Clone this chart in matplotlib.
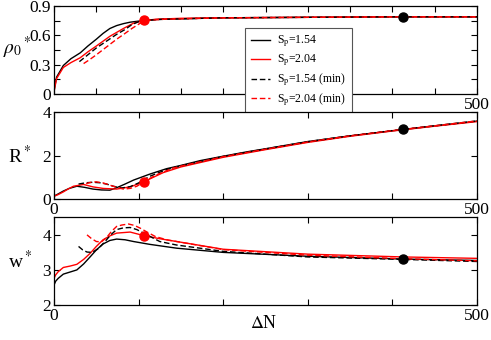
import matplotlib

matplotlib.use("Agg")
import matplotlib.pyplot as plt

# ---- data ----
# panel 1: rho_0*
n_rho_a = [0, 3, 11, 20, 31, 40, 50, 58, 66, 74, 82, 90, 99, 110, 125, 150, 200, 300, 400, 500]
rho_a = [0.03, 0.17, 0.29, 0.36, 0.42, 0.49, 0.56, 0.62, 0.67, 0.70, 0.72, 0.735, 0.745,
         0.755, 0.765, 0.77, 0.78, 0.785, 0.79, 0.79]
n_rho_b = [0, 3, 11, 20, 31, 40, 50, 58, 66, 74, 82, 94, 105, 120, 150, 200, 300, 400, 500]
rho_b = [0.02, 0.155, 0.27, 0.32, 0.37, 0.43, 0.49, 0.54, 0.59, 0.63, 0.67, 0.725, 0.75,
         0.765, 0.775, 0.78, 0.785, 0.79, 0.79]
n_rho_a_min = [30, 40, 50, 62, 74, 84, 92, 100, 110, 130, 200, 300, 400, 500]
rho_a_min = [0.33, 0.40, 0.47, 0.54, 0.61, 0.66, 0.71, 0.74, 0.755, 0.765, 0.78, 0.785, 0.79, 0.79]
n_rho_b_min = [35, 42, 50, 62, 74, 84, 92, 102, 112, 130, 200, 300, 400, 500]
rho_b_min = [0.31, 0.35, 0.40, 0.48, 0.56, 0.62, 0.67, 0.725, 0.755, 0.765, 0.78, 0.785, 0.79, 0.79]

# panel 2: R*
n_r_a = [0, 5, 11, 18, 27, 36, 46, 56, 66, 74, 84, 94, 113, 133, 150, 173, 200, 228, 250,
         300, 350, 400, 450, 500]
r_a = [0.15, 0.25, 0.38, 0.5, 0.6, 0.55, 0.47, 0.43, 0.42, 0.53, 0.7, 0.88, 1.15, 1.40,
       1.55, 1.77, 1.97, 2.17, 2.31, 2.64, 2.9, 3.13, 3.35, 3.57]
n_r_b = [0, 5, 11, 17, 23, 35, 46, 58, 74, 90, 106, 129, 150, 200, 250, 300, 350, 400, 450, 500]
r_b = [0.14, 0.22, 0.34, 0.48, 0.6, 0.68, 0.57, 0.5, 0.47, 0.57, 0.8, 1.22, 1.48, 1.92,
       2.27, 2.6, 2.88, 3.12, 3.34, 3.55]
n_r_a_min = [29, 38, 46, 54, 62, 70, 80, 90, 100, 113, 133, 150, 200, 250, 300, 350, 400, 450, 500]
r_a_min = [0.7, 0.76, 0.78, 0.76, 0.7, 0.6, 0.52, 0.58, 0.75, 1.05, 1.36, 1.53, 1.96, 2.3,
           2.63, 2.9, 3.14, 3.36, 3.58]
n_r_b_min = [38, 44, 50, 58, 66, 74, 82, 90, 98, 106, 120, 140, 150, 200, 250, 300, 350,
             400, 450, 500]
r_b_min = [0.72, 0.78, 0.8, 0.75, 0.65, 0.55, 0.47, 0.5, 0.6, 0.8, 1.1, 1.42, 1.52, 1.95,
           2.29, 2.62, 2.9, 3.14, 3.36, 3.58]

# panel 3: w*
n_w_a = [0, 2, 5, 11, 19, 27, 35, 43, 50, 58, 66, 74, 84, 94, 113, 145, 200, 300, 413, 500]
w_a = [2.57, 2.68, 2.76, 2.88, 2.94, 3.0, 3.17, 3.38, 3.57, 3.74, 3.84, 3.88, 3.86, 3.81,
       3.73, 3.62, 3.5, 3.39, 3.31, 3.27]
n_w_b = [0, 2, 5, 11, 19, 27, 35, 43, 50, 58, 66, 74, 90, 106, 125, 145, 200, 300, 413, 500]
w_b = [2.76, 2.86, 2.95, 3.07, 3.11, 3.16, 3.3, 3.48, 3.67, 3.86, 3.97, 4.05, 4.08, 3.98,
       3.89, 3.81, 3.59, 3.45, 3.37, 3.33]
n_w_a_min = [29, 34, 39, 45, 52, 60, 67, 74, 82, 90, 98, 106, 125, 145, 200, 300, 413, 500]
w_a_min = [3.67, 3.57, 3.51, 3.5, 3.6, 3.8, 4.0, 4.15, 4.2, 4.21, 4.15, 4.05, 3.81, 3.71,
           3.53, 3.37, 3.3, 3.24]
n_w_b_min = [39, 44, 50, 56, 62, 68, 74, 80, 88, 95, 102, 110, 120, 135, 145, 200, 300, 413, 500]
w_b_min = [4.0, 3.9, 3.81, 3.8, 3.92, 4.1, 4.24, 4.28, 4.31, 4.27, 4.19, 4.08, 3.95, 3.85,
           3.81, 3.58, 3.42, 3.32, 3.26]

# highlighted points (red on S_p=2.04, black on S_p=1.54)
dot_n = [106, 413]
dot_rho = [0.755, 0.79]
dot_r = [0.8, 3.2]
dot_w = [3.98, 3.31]

labels = ["S$_\\mathrm{p}$=1.54", "S$_\\mathrm{p}$=2.04",
          "S$_\\mathrm{p}$=1.54 (min)", "S$_\\mathrm{p}$=2.04 (min)"]

plt.rcParams["font.family"] = ["Liberation Serif", "DejaVu Serif"]
plt.rcParams["mathtext.fontset"] = "stix"

RED = "#ff0000"
LW = 1.0
DASH = (0, (4, 2))

fig, axes = plt.subplots(3, 1, figsize=(4.91, 3.40), dpi=100)
fig.subplots_adjust(left=0.110, right=0.9715, top=0.982, bottom=0.103, hspace=0.205)

panels = [
    (n_rho_a, rho_a, n_rho_b, rho_b, n_rho_a_min, rho_a_min, n_rho_b_min, rho_b_min, dot_rho),
    (n_r_a, r_a, n_r_b, r_b, n_r_a_min, r_a_min, n_r_b_min, r_b_min, dot_r),
    (n_w_a, w_a, n_w_b, w_b, n_w_a_min, w_a_min, n_w_b_min, w_b_min, dot_w),
]

for ax, (xa, ya, xb, yb, xam, yam, xbm, ybm, dots) in zip(axes, panels):
    ax.plot(xa, ya, color="black", lw=LW, label=labels[0])
    ax.plot(xb, yb, color=RED, lw=LW, label=labels[1])
    ax.plot(xam, yam, color="black", lw=LW, ls=DASH, label=labels[2])
    ax.plot(xbm, ybm, color=RED, lw=LW, ls=DASH, label=labels[3])
    ax.plot(dot_n[0], dots[0], "o", color=RED, ms=6.5, zorder=5)
    ax.plot(dot_n[1], dots[1], "o", color="black", ms=6.5, zorder=5)
    ax.set_xlim(0, 500)
    ax.tick_params(direction="in", length=4, width=0.8, top=True, right=True,
                   labelsize=12.5, pad=2)
    for s in ax.spines.values():
        s.set_linewidth(0.9)

# axis ranges and ticks
axes[0].set_ylim(0, 0.9)
axes[0].set_yticks([0, 0.15, 0.3, 0.45, 0.6, 0.75, 0.9])
axes[0].set_yticklabels(["0", "", "0.3", "", "0.6", "", "0.9"])
axes[0].set_xticks(range(0, 501, 50))
axes[0].set_xticklabels([""] * 10 + ["500"])

axes[1].set_ylim(0, 4)
axes[1].set_yticks([0, 2, 4])
axes[1].set_yticklabels(["0", "2", "4"])
axes[1].set_xticks(range(0, 501, 100))
axes[1].set_xticklabels(["0", "", "", "", "", "500"])

axes[2].set_ylim(2, 4.5)
axes[2].set_yticks([2, 3, 4])
axes[2].set_yticklabels(["2", "3", "4"])
axes[2].set_xticks(range(0, 501, 100))
axes[2].set_xticklabels(["0", "", "", "", "", "500"])

# axis titles placed like the original
fig.text(0.036, 0.86, r"$\rho_0{}^*$", fontsize=14, ha="center", va="center")
fig.text(0.040, 0.540, r"R$^*$", fontsize=14, ha="center", va="center")
fig.text(0.040, 0.232, r"w$^*$", fontsize=14, ha="center", va="center")
fig.text(0.538, 0.050, r"$\Delta$N", fontsize=13, ha="center", va="center")

leg = axes[0].legend(loc="upper left", bbox_to_anchor=(245 / 491, 1 - 28 / 340),
                     bbox_transform=fig.transFigure, fontsize=8.5, frameon=True,
                     fancybox=False, edgecolor="#555555", framealpha=1,
                     handlelength=1.6, handletextpad=0.6, labelspacing=0.3,
                     borderpad=0.5, borderaxespad=0)
leg.get_frame().set_linewidth(0.8)
leg.set_zorder(10)

fig.savefig("out.png", dpi=100)
